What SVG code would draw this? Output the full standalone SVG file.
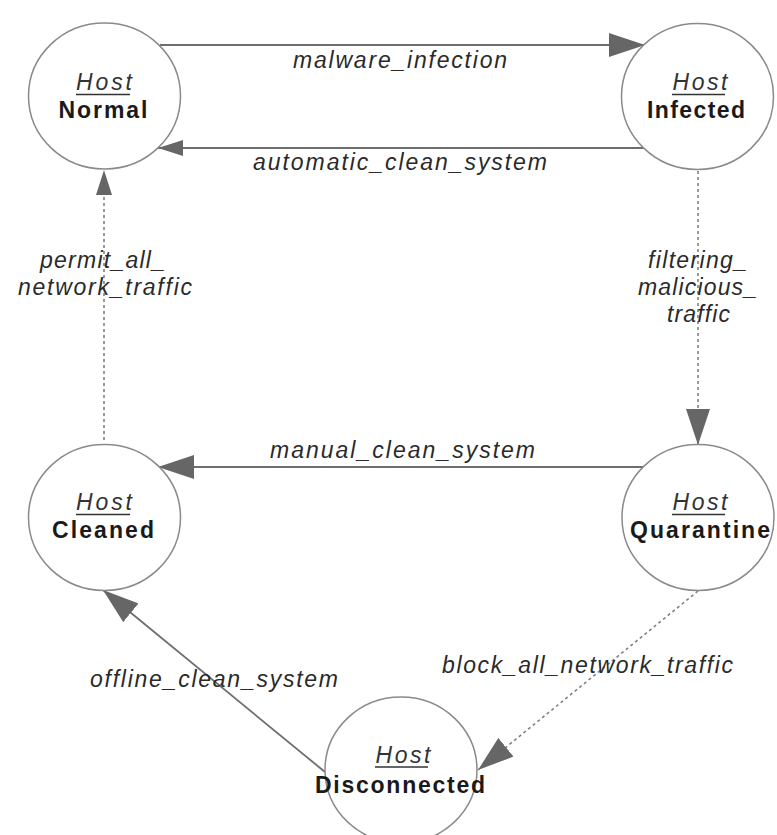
<svg xmlns="http://www.w3.org/2000/svg" width="777" height="835" viewBox="0 0 777 835">
<style>
.node ellipse{fill:#fff;stroke:#8a8a8a;stroke-width:1.5}
.host{font-family:"Liberation Sans",Arial,sans-serif;font-style:italic;font-size:23px;fill:#333;text-anchor:middle}
.ul{stroke:#333;stroke-width:1.6}
.name{font-family:"Liberation Sans",Arial,sans-serif;font-weight:bold;font-size:23px;fill:#1a1a1a;text-anchor:middle}
.lbl{font-family:"Liberation Sans",Arial,sans-serif;font-style:italic;font-size:23px;fill:#2a2a2a}
.edge{fill:none;stroke:#6e6e6e;stroke-width:1.8}
.dash{stroke-dasharray:3,3;stroke:#808080;stroke-width:1.6}
</style>
<defs>
<marker id="big" markerUnits="userSpaceOnUse" markerWidth="36" markerHeight="24" refX="36" refY="12" orient="auto"><path d="M0,0 L36,12 L0,24 z" fill="#666"/></marker>
<marker id="small" markerUnits="userSpaceOnUse" markerWidth="25" markerHeight="16" refX="25" refY="8" orient="auto"><path d="M0,0 L25,8 L0,16 z" fill="#666"/></marker>
</defs>
<rect width="777" height="835" fill="#fff"/>
<g id="connectors">
<line class="edge" x1="160" y1="45" x2="645" y2="45" marker-end="url(#big)"/>
<line class="edge" x1="643" y1="148" x2="158" y2="148" marker-end="url(#small)"/>
<line class="edge dash" x1="698" y1="171" x2="698" y2="445" marker-end="url(#big)"/>
<line class="edge dash" x1="104" y1="440" x2="104" y2="170" marker-end="url(#small)"/>
<line class="edge" x1="643" y1="467" x2="158" y2="467" marker-end="url(#big)"/>
<line class="edge dash" x1="698" y1="591" x2="478" y2="770" marker-end="url(#big)"/>
<line class="edge" x1="325" y1="772" x2="103" y2="590" marker-end="url(#big)"/>
<text class="lbl" x="293" y="68" textLength="214" lengthAdjust="spacing">malware_infection</text>
<text class="lbl" x="253" y="170" textLength="294" lengthAdjust="spacing">automatic_clean_system</text>
<text class="lbl" x="40" y="268" textLength="125" lengthAdjust="spacing">permit_all_</text>
<text class="lbl" x="18" y="295" textLength="174" lengthAdjust="spacing">network_traffic</text>
<text class="lbl" x="648" y="268" textLength="99" lengthAdjust="spacing">filtering_</text>
<text class="lbl" x="638" y="295" textLength="119" lengthAdjust="spacing">malicious_</text>
<text class="lbl" x="667" y="322" textLength="63" lengthAdjust="spacing">traffic</text>
<text class="lbl" x="270" y="458" textLength="265" lengthAdjust="spacing">manual_clean_system</text>
<text class="lbl" x="90" y="687" textLength="248" lengthAdjust="spacing">offline_clean_system</text>
<text class="lbl" x="442" y="673" textLength="291" lengthAdjust="spacing">block_all_network_traffic</text>
</g>
<g id="node-normal" class="node">
<ellipse cx="104.5" cy="96" rx="76" ry="73"/>
<text class="host" x="104" y="90" textLength="56" lengthAdjust="spacing">Host</text>
<line class="ul" x1="76" y1="94.5" x2="130" y2="94.5"/>
<text class="name" x="103" y="118" textLength="89" lengthAdjust="spacing">Normal</text>
</g>
<g id="node-infected" class="node">
<ellipse cx="697.5" cy="96.5" rx="76" ry="73"/>
<text class="host" x="700" y="90" textLength="55" lengthAdjust="spacing">Host</text>
<line class="ul" x1="672" y1="94.5" x2="725" y2="94.5"/>
<text class="name" x="696" y="118" textLength="98" lengthAdjust="spacing">Infected</text>
</g>
<g id="node-cleaned" class="node">
<ellipse cx="104.5" cy="517.5" rx="76" ry="73"/>
<text class="host" x="104" y="510" textLength="56" lengthAdjust="spacing">Host</text>
<line class="ul" x1="76" y1="514.5" x2="130" y2="514.5"/>
<text class="name" x="103" y="538" textLength="102" lengthAdjust="spacing">Cleaned</text>
</g>
<g id="node-quarantine" class="node">
<ellipse cx="698" cy="517.5" rx="76" ry="73"/>
<text class="host" x="700" y="510" textLength="55" lengthAdjust="spacing">Host</text>
<line class="ul" x1="672" y1="514.5" x2="725" y2="514.5"/>
<text class="name" x="700" y="538" textLength="140" lengthAdjust="spacing">Quarantine</text>
</g>
<g id="node-disconnected" class="node">
<ellipse cx="401" cy="770" rx="76" ry="73"/>
<text class="host" x="403" y="763" textLength="55" lengthAdjust="spacing">Host</text>
<line class="ul" x1="375" y1="767" x2="428" y2="767"/>
<text class="name" x="400" y="793" textLength="170" lengthAdjust="spacing">Disconnected</text>
</g>
</svg>
